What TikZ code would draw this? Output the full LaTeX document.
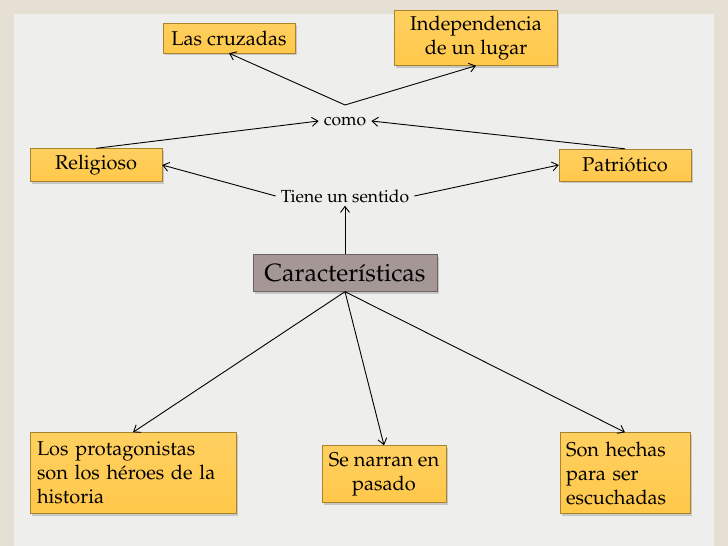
\documentclass[tikz,border=0pt]{standalone}
\usepackage[T1]{fontenc}
\usepackage{mathpazo}
\usetikzlibrary{shadows,arrows.meta}
\definecolor{frame}{HTML}{E6E0D4}
\definecolor{panel}{HTML}{EEEEEC}
\definecolor{gold}{HTML}{FFC84A}
\definecolor{goldtop}{HTML}{FFD060}
\definecolor{goldline}{HTML}{A8832B}
\definecolor{mauve}{HTML}{A69797}
\definecolor{mauveline}{HTML}{6E6262}
\begin{document}
\begin{tikzpicture}[x=1pt, y=-1pt,
  box/.style={draw=goldline, top color=goldtop, bottom color=gold, inner sep=0pt, align=center,
    drop shadow={opacity=0.35, shadow xshift=1.5pt, shadow yshift=-2pt},
    font=\fontsize{20}{24}\selectfont},
  word/.style={inner xsep=5pt, inner ysep=3pt, font=\fontsize{17.5}{20}\selectfont},
  link/.style={line width=0.9pt, -{Straight Barb[length=6pt, width=9pt, line width=0.9pt]}}]
  \fill[frame] (0,0) rectangle (728,546);
  \fill[panel] (14,14) rectangle (714,546);
  \useasboundingbox (0,0) rectangle (728,546);

  \node[box, minimum width=132pt, minimum height=30pt] (cruz) at (229,38) {Las cruzadas};
  \node[box, minimum width=163pt, minimum height=55pt] (indep) at (476,38) {Independencia\\de un lugar};
  \node[word] (como) at (345,121) {como};
  \coordinate (cv) at (345,105);
  \node[box, minimum width=132pt, minimum height=33pt] (relig) at (96,165) {Religioso};
  \node[box, minimum width=132pt, minimum height=32pt] (patr) at (625,165) {Patri\'otico};
  \node[word] (tiene) at (345,196) {Tiene un sentido};
  \node[box, top color=mauve, bottom color=mauve, draw=mauveline, minimum width=184pt, minimum height=37pt,
    font=\fontsize{25}{30}\selectfont] (carac) at (345,273) {Caracter\'{\i}sticas};
  \node[box, align=left, text width=192pt, inner xsep=7pt, minimum height=81pt] (prot) at (133,473)
    {Los protagonistas\\son los h\'eroes de la\\historia};
  \node[box, minimum width=124pt, minimum height=57pt] (narr) at (384,474) {Se narran en\\pasado};
  \node[box, align=left, text width=118pt, inner xsep=6pt, minimum height=81pt] (hech) at (625,473)
    {Son hechas\\para ser\\escuchadas};

  \draw[link] (cv) -- (cruz.south);
  \draw[link] (cv) -- (indep.south);
  \draw[link] (relig.north) -- (como.west);
  \draw[link] (patr.north) -- (como.east);
  \draw[link] (tiene.west) -- (relig.east);
  \draw[link] (tiene.east) -- (patr.west);
  \draw[link] (carac.north) -- (tiene.south);
  \draw[link] (carac.south) -- (prot.north);
  \draw[link] (carac.south) -- (narr.north);
  \draw[link] (carac.south) -- (hech.north);
\end{tikzpicture}
\end{document}
